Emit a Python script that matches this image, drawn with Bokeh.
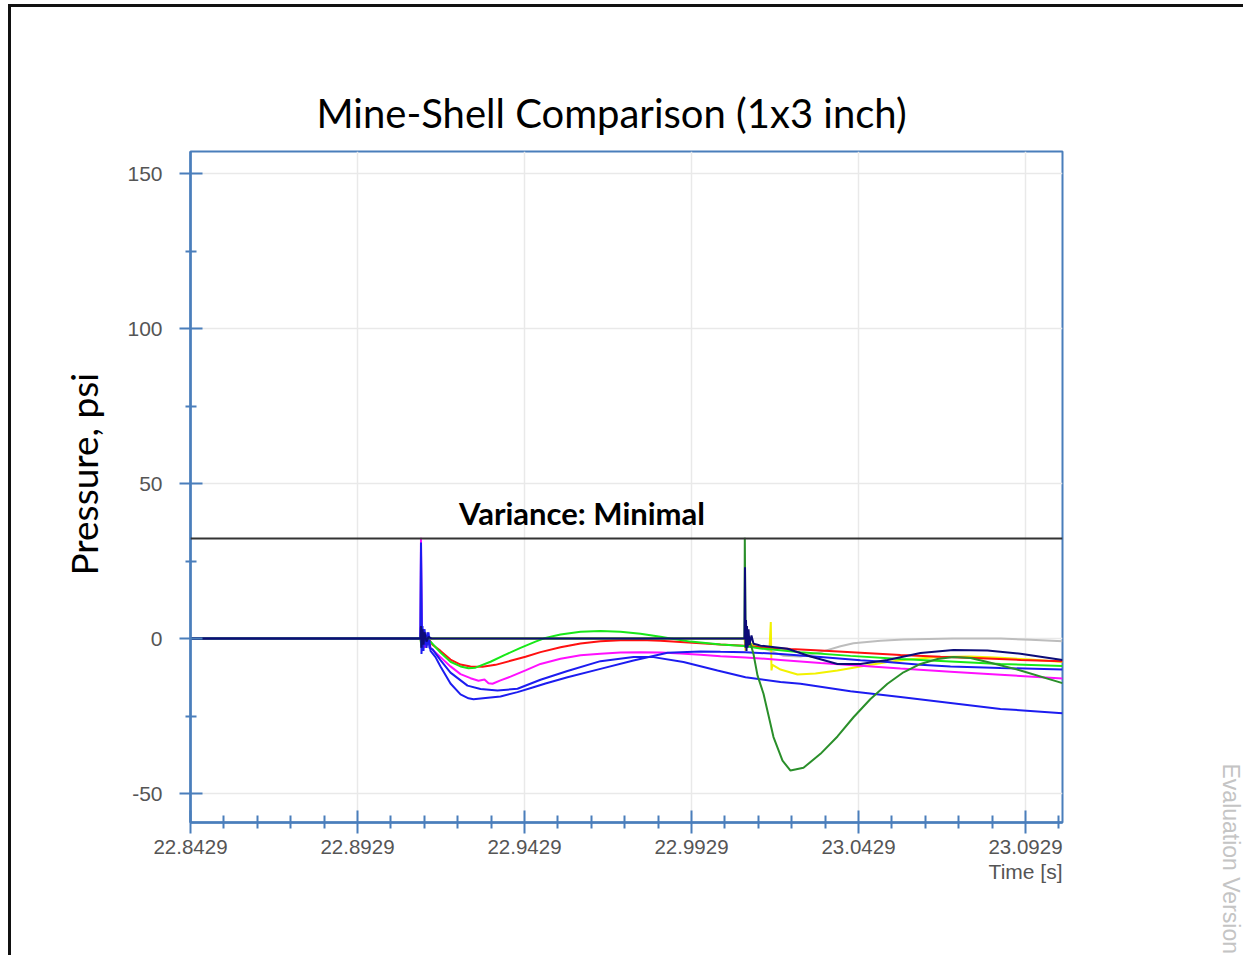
from bokeh.plotting import figure
from bokeh.models import Range1d, FixedTicker, PrintfTickFormatter, Label, Span, Title
from bokeh.embed import file_html
from bokeh.resources import INLINE

# ---------------- data ----------------
x_major = [22.8429, 22.8929, 22.9429, 22.9929, 23.0429, 23.0929]
x_minor = [22.8529, 22.8629, 22.8729, 22.8829, 22.9029, 22.9129, 22.9229, 22.9329,
           22.9529, 22.9629, 22.9729, 22.9829, 23.0029, 23.0129, 23.0229, 23.0329,
           23.0529, 23.0629, 23.0729, 23.0829, 23.1029]
y_major = [-50, 0, 50, 100, 150]
y_minor = [-25, 25, 75, 125]
variance_level = [32.3]

red_t = [22.8429, 22.91176, 22.91206, 22.91266, 22.91326, 22.91416, 22.91536, 22.91775, 22.92074,
         22.92374, 22.92673, 22.93032, 22.93422, 22.93871, 22.94320, 22.94769, 22.95368, 22.95967,
         22.96565, 22.97164, 22.97763, 22.98362, 22.98961, 22.99559, 23.00158, 23.00877, 23.01356,
         23.02254, 23.03152, 23.04350, 23.05547, 23.06745, 23.07943, 23.09140, 23.10398]
red_p = [0, 0, -2, 2, -3, 0, -2, -4.0, -6.8, -8.4, -9.0, -9.1, -8.5, -7.2, -5.9, -4.4, -2.8, -1.6,
         -0.9, -0.6, -0.5, -0.7, -1.1, -1.5, -1.9, -2.3, -2.8, -3.4, -3.9, -4.6, -5.3, -5.9, -6.4,
         -6.9, -7.3]

green_t = [22.8429, 22.91176, 22.91206, 22.91266, 22.91356, 22.91476, 22.91775, 22.92074, 22.92374,
           22.92613, 22.92823, 22.93272, 22.93721, 22.94170, 22.94619, 22.94919, 22.95368, 22.95967,
           22.96565, 22.97164, 22.97763, 22.98362, 22.98661, 22.99260, 22.99859, 23.00158, 23.00877,
           23.01356, 23.02553, 23.04050, 23.05547, 23.07044, 23.08541, 23.10398]
green_p = [0, 0, -3, 1, -2, -1, -4.5, -7.5, -9.0, -9.6, -9.4, -7.5, -5.2, -3.0, -1.0, 0.2, 1.3, 2.2,
           2.4, 2.2, 1.5, 0.6, 0.0, -1.0, -1.6, -1.9, -2.4, -3.2, -4.4, -5.6, -6.6, -7.4, -8.2, -8.9]

magenta_t = [22.8429, 22.91176, 22.91191, 22.91221, 22.91266, 22.91326, 22.91386, 22.91476, 22.91775,
             22.92074, 22.92374, 22.92673, 22.92913, 22.93092, 22.93212, 22.93332, 22.93571, 22.93871,
             22.94320, 22.94769, 22.95368, 22.95967, 22.96565, 22.97164, 22.97763, 22.98362, 22.98961,
             22.99559, 23.00158, 23.00907, 23.01955, 23.03152, 23.04350, 23.05547, 23.07044, 23.08541,
             23.10398]
magenta_p = [0, 0, 32.5, -4, 3, -3, 1, -3, -6, -9, -11.5, -12.8, -13.6, -13.2, -14.4, -14.6, -13.5,
             -12.3, -10.3, -8.2, -6.5, -5.4, -4.9, -4.5, -4.4, -4.5, -4.8, -5.2, -5.7, -6.1, -6.9,
             -7.9, -8.8, -9.7, -10.7, -11.7, -12.9]

blue_a_t = [22.8429, 22.91176, 22.91191, 22.91206, 22.91236, 22.91266, 22.91296, 22.91356, 22.91416,
            22.91476, 22.91625, 22.91775, 22.92074, 22.92374, 22.92613, 22.92763, 22.93122, 22.93571,
            22.94080, 22.94559, 22.94919, 22.95577, 22.96565, 22.97553, 22.98571, 22.99559, 23.00158,
            23.00907, 23.01955, 23.03152, 23.04350, 23.05158, 23.06146, 23.07044, 23.08541, 23.10398]
blue_a_p = [0, 0, 28, -5, 4, -4, 3, -3, 2, -4, -6, -9, -14.5, -18, -19.3, -19.6, -19.2, -18.7,
            -17.3, -15.7, -14.5, -12.5, -9.8, -7.1, -4.6, -4.2, -4.3, -4.4, -5.0, -6.0, -7.0, -7.6,
            -8.5, -9.0, -9.5, -10.0]

blue_b_t = [22.8429, 22.91176, 22.91191, 22.91221, 22.91266, 22.91326, 22.91386, 22.91446, 22.91536,
            22.91775, 22.92074, 22.92583, 22.92973, 22.93481, 22.94080, 22.94769, 22.95577, 22.96565,
            22.97553, 22.98152, 22.99050, 23.00068, 23.00907, 23.01955, 23.02553, 23.04050, 23.05547,
            23.07044, 23.08541, 23.10398]
blue_b_p = [0, 0, 31, -3, 3, -2, 2, -3, -3.5, -7, -11, -15.2, -16.3, -16.8, -16.2, -13.3, -10.5,
            -7.3, -6.0, -6.0, -7.6, -10.3, -12.5, -14.0, -14.6, -17.0, -18.9, -20.8, -22.7, -24.1]

navy_t = [22.8429, 22.91176, 22.91191, 22.91206, 22.91236, 22.91266, 22.91296, 22.91356, 22.91416,
          22.91506, 23.00877, 23.00892, 23.00907, 23.00922, 23.00937, 23.00952, 23.00967, 23.00997,
          23.01027, 23.01086, 23.01146, 23.01266, 23.01356, 23.02164, 23.02853, 23.03661, 23.04350,
          23.05158, 23.06146, 23.07134, 23.08152, 23.09140, 23.10398]
navy_p = [0, 0, 4, -3, 3, -2, 2, -1, 0.5, 0, 0, 23, -3, 6, -4, 4, -3, 3, -2, 1, -1.7, -2.0, -2.3,
          -3.3, -5.8, -8.2, -8.2, -6.9, -4.7, -3.7, -3.9, -4.9, -6.9]

dkgreen_t = [22.8429, 23.00877, 23.00886, 23.00907, 23.00937, 23.00997, 23.01056, 23.01146, 23.01266,
             23.01446, 23.01745, 23.02015, 23.02254, 23.02643, 23.03152, 23.03661, 23.04140, 23.04649,
             23.05158, 23.05637, 23.06146, 23.06655, 23.07134, 23.07643, 23.08152, 23.09140, 23.10398]
dkgreen_p = [0, 0, 32.5, 2, -1, -2, -1.6, -5, -11.9, -17.8, -31.8, -39.4, -42.6, -41.7, -37.2, -31.6,
             -25.4, -19.5, -14.6, -10.9, -8.2, -6.6, -6.0, -6.3, -7.6, -10.3, -14.4]

yellow_t = [22.8429, 23.00877, 23.00907, 23.00937, 23.00997, 23.01116, 23.01356, 23.01625, 23.01664,
            23.01685, 23.01715, 23.01955, 23.02464, 23.03003, 23.03661, 23.04350, 23.05158, 23.05847,
            23.06655, 23.07643, 23.08541, 23.09440, 23.10398]
yellow_p = [0, 0, -4, 0, -1, -2, -2.8, -3.5, 5.3, -10.3, -8.5, -10.0, -11.6, -11.3, -10.3, -9.0, -7.6,
            -6.7, -6.0, -5.8, -6.2, -6.8, -7.6]

gray_t = [22.8429, 23.00877, 23.01056, 23.01655, 23.02044, 23.02553, 23.03152, 23.03751, 23.04140,
          23.04949, 23.05637, 23.07134, 23.08541, 23.09440, 23.10398]
gray_p = [0, 0, -2, -4.0, -5.6, -5.8, -4.4, -2.5, -1.5, -0.7, -0.3, 0.0, 0.0, -0.4, -0.9]

series = [
    (gray_t, gray_p, "#bdbdbd"),
    (yellow_t, yellow_p, "#f2f200"),
    (red_t, red_p, "#ff1010"),
    (green_t, green_p, "#18e818"),
    (magenta_t, magenta_p, "#ff10ff"),
    (blue_a_t, blue_a_p, "#1c1cf0"),
    (blue_b_t, blue_b_p, "#1c1cf0"),
    (dkgreen_t, dkgreen_p, "#2a8f2a"),
    (navy_t, navy_p, "#0c0c78"),
]

AXIS_BLUE = "#4a7ebb"

p = figure(width=1235, height=951, output_backend="svg", toolbar_location=None,
           x_range=Range1d(22.8429, 23.10398), y_range=Range1d(-59.35, 157.1),
           min_border_left=179, min_border_right=184, min_border_top=144, min_border_bottom=136)
p.background_fill_color = "white"
p.border_fill_color = "white"
p.outline_line_color = AXIS_BLUE
p.outline_line_width = 2

p.xaxis.ticker = FixedTicker(ticks=x_major, minor_ticks=x_minor)
p.yaxis.ticker = FixedTicker(ticks=y_major, minor_ticks=y_minor)
p.xaxis.formatter = PrintfTickFormatter(format="%.4f")
p.yaxis.formatter = PrintfTickFormatter(format="%d")

for ax in (p.xaxis[0], p.yaxis[0]):
    ax.axis_line_color = AXIS_BLUE
    ax.axis_line_width = 2.5
    ax.major_tick_line_color = AXIS_BLUE
    ax.major_tick_line_width = 2
    ax.minor_tick_line_color = AXIS_BLUE
    ax.minor_tick_line_width = 2
    ax.major_label_text_font = "Liberation Sans"
    ax.major_label_text_color = "#555555"

p.xaxis.major_label_text_font_size = "20.5px"
p.yaxis.major_label_text_font_size = "21px"
p.yaxis.major_tick_in = 12
p.yaxis.major_tick_out = 11
p.yaxis.minor_tick_in = 6
p.yaxis.minor_tick_out = 5
p.yaxis.major_label_standoff = 17
p.xaxis.major_tick_in = 12
p.xaxis.major_tick_out = 11
p.xaxis.minor_tick_in = 7
p.xaxis.minor_tick_out = 6
p.xaxis.major_label_standoff = 6

p.xgrid.grid_line_color = "#e9e9e9"
p.ygrid.grid_line_color = "#e9e9e9"
p.xgrid.grid_line_width = 1.5
p.ygrid.grid_line_width = 1.5

for t, v, c in series:
    p.line(t, v, line_color=c, line_width=2)

p.add_layout(Span(location=variance_level[0], dimension="width", line_color="#333333", line_width=2))

p.add_layout(Label(x=22.96012, y=40.6, text="Variance: Minimal",
                   text_font="Lato", text_font_style="bold", text_font_size="31px",
                   text_color="black", text_align="center", text_baseline="middle"))

# side-panel texts (not clipped to the frame)
p.add_layout(Title(text="Mine-Shell Comparison (1x3 inch)", align="left", offset=126,
                   standoff=30, text_font="Lato", text_font_style="normal",
                   text_font_size="40px", text_color="black"), "above")
p.add_layout(Title(text="Pressure, psi", align="left", offset=247, standoff=37,
                   text_font="Lato", text_font_style="normal", text_font_size="37px",
                   text_color="black"), "left")
p.add_layout(Title(text="Time [s]", align="right", standoff=2,
                   text_font="Liberation Sans", text_font_style="normal",
                   text_font_size="21px", text_color="#555555"), "below")
# spacer, then the watermark text on the far right
p.add_layout(Title(text=" ", standoff=152, text_font_size="1px"), "right")
p.add_layout(Title(text="Evaluation Version", align="left", offset=612, standoff=0,
                   text_font="Liberation Sans", text_font_style="normal",
                   text_font_size="23px", text_color="#c4c4c4"), "right")

p.styles = {"margin-left": "8px", "margin-top": "4px",
            "border-left": "3px solid #111111", "border-top": "3px solid #111111"}

open("out.html", "w").write(file_html(p, INLINE))
